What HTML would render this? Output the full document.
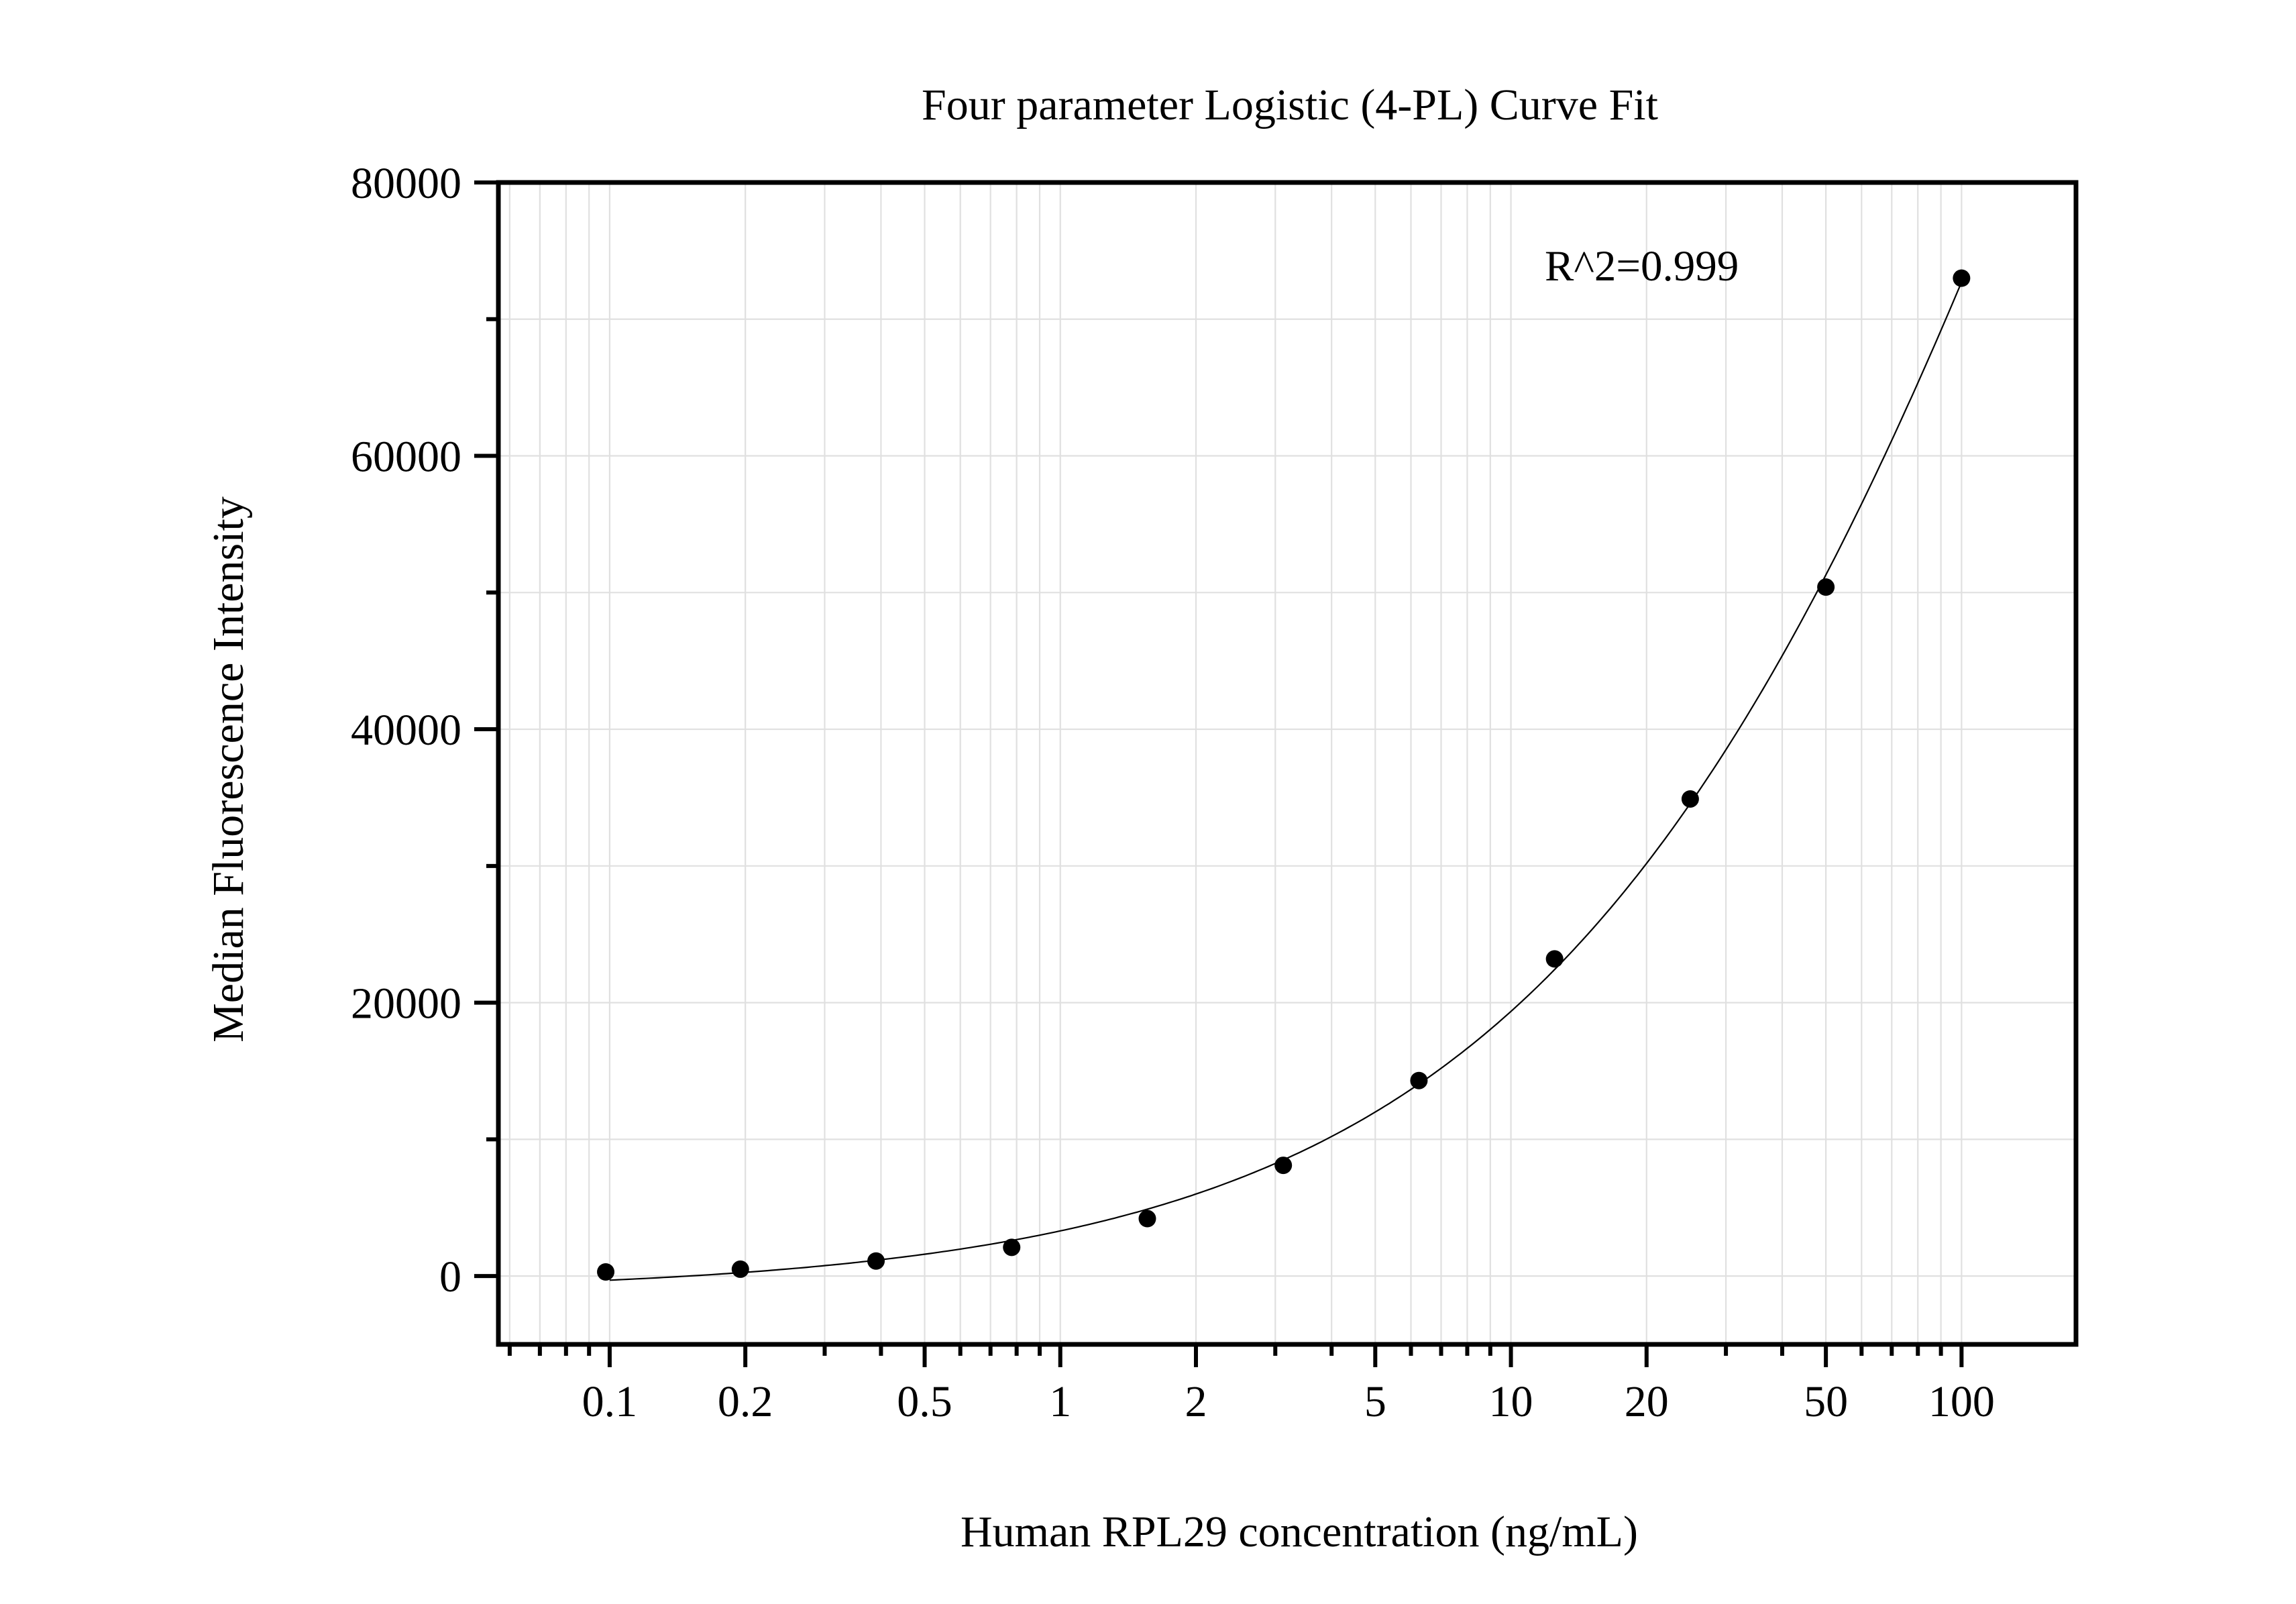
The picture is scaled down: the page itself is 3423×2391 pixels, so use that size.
<!DOCTYPE html>
<html><head><meta charset="utf-8"><style>
html,body{margin:0;padding:0;background:#fff}
svg{display:block}
text{font-family:"Liberation Serif",serif;fill:#000}
</style></head><body>
<svg id="chart" width="3423" height="2391" viewBox="0 0 3423 2391" xmlns="http://www.w3.org/2000/svg">
<rect width="3423" height="2391" fill="#fff"/>
<g id="grid"></g>
<g id="ticks"></g>
<path id="curve" fill="none" stroke="#000" stroke-width="2.2"/>
<g id="points"></g>
<rect x="743" y="272" width="2352" height="1732" fill="none" stroke="#000" stroke-width="7"/>
<text x="1923" y="178" font-size="66" text-anchor="middle">Four parameter Logistic (4-PL) Curve Fit</text>
<text x="2303" y="418" font-size="65">R^2=0.999</text>
<text x="1937" y="2305" font-size="66" text-anchor="middle">Human RPL29 concentration (ng/mL)</text>
<text x="0" y="0" font-size="66" text-anchor="middle" transform="translate(362,1147) rotate(-90)">Median Fluorescence Intensity</text>
</svg>
<script>
const concentrations = [0.098, 0.195, 0.39, 0.78, 1.56, 3.125, 6.25, 12.5, 25, 50, 100];
const intensities = [300, 500, 1100, 2100, 4200, 8100, 14300, 23200, 34900, 50400, 73000];
const xTickValues = [0.1, 0.2, 0.5, 1, 2, 5, 10, 20, 50, 100];
const xTickLabels = ["0.1", "0.2", "0.5", "1", "2", "5", "10", "20", "50", "100"];
const yTickValues = [0, 20000, 40000, 60000, 80000];
const yTickLabels = ["0", "20000", "40000", "60000", "80000"];

const NS = "http://www.w3.org/2000/svg";
const L = 743, R = 3095, T = 272, B = 2004;
const xMinLog = -1.247, xMaxLog = 2.254, yMin = -5000, yMax = 80000;
function xs(v){ return L + (Math.log10(v) - xMinLog) / (xMaxLog - xMinLog) * (R - L); }
function ys(v){ return B - (v - yMin) / (yMax - yMin) * (B - T); }
function mk(tag, attrs, parent){ const e = document.createElementNS(NS, tag); for (const k in attrs) e.setAttribute(k, attrs[k]); parent.appendChild(e); return e; }

const grid = document.getElementById('grid'), ticks = document.getElementById('ticks');
for (let d = -2; d <= 2; d++) {
  for (let m = 1; m <= 9; m++) {
    const v = m * Math.pow(10, d);
    const lg = Math.log10(v);
    if (lg < xMinLog || lg > xMaxLog) continue;
    const x = xs(v);
    const gl = mk('line', {x1:x, x2:x, y1:T, y2:B, stroke:'#e0e0e0', 'stroke-width':2.2}, grid);
    
    
    const major = xTickValues.some(t => Math.abs(t - v) < 1e-9);
    const tk = mk('line', {x1:x, x2:x, y1:B, y2:B + (major ? 34 : 17), stroke:'#000', 'stroke-width':6}, ticks);
    
    
  }
}
xTickValues.forEach((v, i) => {
  const t = mk('text', {x:xs(v), y:2111, 'font-size':66, 'text-anchor':'middle'}, ticks);
  t.textContent = xTickLabels[i];
  
  
});
for (let v = 0; v <= 80000; v += 10000) {
  const y = ys(v);
  const major = v % 20000 === 0;
  const gl = mk('line', {x1:L, x2:R, y1:y, y2:y, stroke:'#e0e0e0', 'stroke-width':2.2}, grid);
  
  
  const tk = mk('line', {x1:L - (major ? 36 : 18), x2:L, y1:y, y2:y, stroke:'#000', 'stroke-width':6}, ticks);
  
  
}
yTickValues.forEach((v, i) => {
  const t = mk('text', {x:688, y:ys(v) + 23, 'font-size':66, 'text-anchor':'end'}, ticks);
  t.textContent = yTickLabels[i];
  
  
});

function f4(p, x){ return p[3] + (p[0] - p[3]) / (1 + Math.pow(x / Math.exp(p[2]), p[1])); }
function sse(p){ let s = 0; for (let i = 0; i < concentrations.length; i++){ const r = f4(p, concentrations[i]) - intensities[i]; s += r*r; } return isFinite(s) ? s : 1e30; }
function nm(p0){
  const n = p0.length; let simp = [p0.slice()];
  const steps = [500, 0.2, 0.5, 30000];
  for (let i = 0; i < n; i++){ const p = p0.slice(); p[i] += steps[i]; simp.push(p); }
  for (let it = 0; it < 4000; it++){
    simp.sort((a,b) => sse(a) - sse(b));
    const c = new Array(n).fill(0);
    for (let i = 0; i < n; i++) for (let j = 0; j < n; j++) c[j] += simp[i][j] / n;
    const w = simp[n];
    const xr = c.map((v,j) => v + (v - w[j]));
    if (sse(xr) < sse(simp[0])) {
      const xe = c.map((v,j) => v + 2*(v - w[j]));
      simp[n] = sse(xe) < sse(xr) ? xe : xr;
    } else if (sse(xr) < sse(simp[n-1])) simp[n] = xr;
    else {
      const xc = c.map((v,j) => v + 0.5*(w[j] - v));
      if (sse(xc) < sse(w)) simp[n] = xc;
      else for (let i = 1; i <= n; i++) simp[i] = simp[i].map((v,j) => simp[0][j] + 0.5*(v - simp[0][j]));
    }
  }
  simp.sort((a,b) => sse(a) - sse(b));
  return simp[0];
}
const p = nm([-500, 1.0, Math.log(200), 200000]);
let d = '';
const x0 = Math.log10(0.1), x1 = Math.log10(100);
for (let i = 0; i <= 300; i++){
  const x = Math.pow(10, x0 + (x1 - x0) * i / 300);
  d += (i ? 'L' : 'M') + xs(x).toFixed(1) + ',' + ys(f4(p, x)).toFixed(1);
}
document.getElementById('curve').setAttribute('d', d);

const pts = document.getElementById('points');
concentrations.forEach((c, i) => {
  const e = mk('circle', {cx:xs(c), cy:ys(intensities[i]), r:13, fill:'#000'}, pts);
  
  
});
</script>
</body></html>
